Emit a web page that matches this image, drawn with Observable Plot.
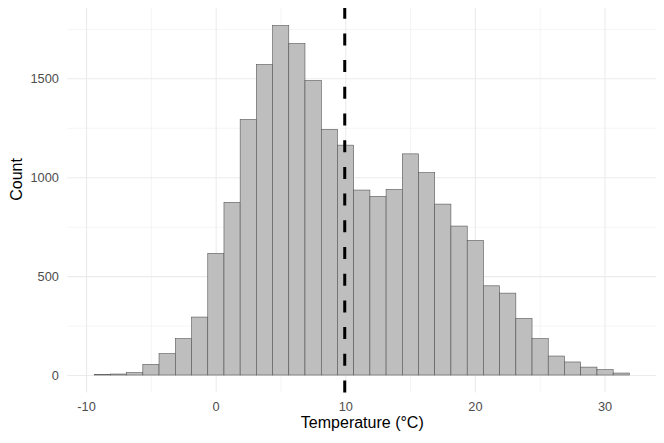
<!DOCTYPE html>
<html>
<head>
<meta charset="utf-8">
<script src="https://cdn.jsdelivr.net/npm/d3@7"></script>
<script src="https://cdn.jsdelivr.net/npm/@observablehq/plot@0.6"></script>
<style>
  html, body { margin: 0; padding: 0; background: #ffffff; }
  #chart { width: 664px; height: 443px; }
</style>
</head>
<body>
<div id="chart"></div>
<script>
// Histogram bin edges (°C)
const binEdges = [-9.37, -8.12, -6.87, -5.62, -4.37, -3.11, -1.86, -0.61, 0.64, 1.89,
  3.14, 4.39, 5.64, 6.89, 8.15, 9.40, 10.65, 11.90, 13.15, 14.40,
  15.65, 16.90, 18.15, 19.41, 20.66, 21.91, 23.16, 24.41, 25.66, 26.91,
  28.16, 29.42, 30.67, 31.92];
// Counts per bin
const counts = [2, 5, 12, 54, 108, 184, 293, 615, 873, 1292,
  1570, 1767, 1676, 1489, 1242, 1162, 935, 903, 938, 1118,
  1023, 864, 753, 680, 451, 414, 286, 184, 96, 66,
  40, 27, 10];
// Reference line (mean temperature)
const meanTemp = [9.92];
// Axis ticks
const xTicks = [-10, 0, 10, 20, 30];
const xMinor = [-5, 5, 15, 25];
const yTicks = [0, 500, 1000, 1500];
const yMinor = [250, 750, 1250, 1750];
const xTitle = "Temperature (°C)";
const yTitle = "Count";

const bins = counts.map((c, i) => ({x1: binEdges[i], x2: binEdges[i + 1], count: c}));

const gridColor = "#ebebeb";
const yDomain = [-88.35, 1855.35];

const chart = Plot.plot({
  width: 664,
  height: 443,
  marginLeft: 67.4,
  marginRight: 7.8,
  marginTop: 8,
  marginBottom: 50.5,
  style: {fontFamily: "'Liberation Sans', Arial, Helvetica, sans-serif", fontSize: "12.8px", background: "#ffffff"},
  x: {domain: [-11.44, 33.99]},
  y: {domain: yDomain},
  marks: [
    Plot.gridX(xMinor, {stroke: gridColor, strokeOpacity: 1, strokeWidth: 0.55}),
    Plot.gridY(yMinor, {stroke: gridColor, strokeOpacity: 1, strokeWidth: 0.55}),
    Plot.gridX(xTicks, {stroke: gridColor, strokeOpacity: 1, strokeWidth: 1.07}),
    Plot.gridY(yTicks, {stroke: gridColor, strokeOpacity: 1, strokeWidth: 1.07}),
    Plot.axisX(xTicks, {tickSize: 0, tickPadding: 9, label: null, fill: "#4d4d4d", fontSize: 12.8, tickFormat: (d) => String(d)}),
    Plot.axisY(yTicks, {tickSize: 0, tickPadding: 9, label: null, fill: "#4d4d4d", fontSize: 12.8, tickFormat: (d) => String(d)}),
    Plot.rect(bins, {x1: "x1", x2: "x2", y1: 0, y2: "count", fill: "#bebebe", stroke: "#555555", strokeWidth: 0.6}),
    Plot.ruleX(meanTemp, {y1: yDomain[0], y2: yDomain[1], stroke: "#000000", strokeWidth: 3, strokeDasharray: "12,14.7"}),
    Plot.text([xTitle], {frameAnchor: "bottom", dy: 35, fontSize: 16, fill: "#000000"}),
    Plot.text([yTitle], {frameAnchor: "left", dx: -51.4, rotate: -90, fontSize: 16, fill: "#000000"})
  ]
});
document.getElementById("chart").appendChild(chart);
</script>
</body>
</html>
